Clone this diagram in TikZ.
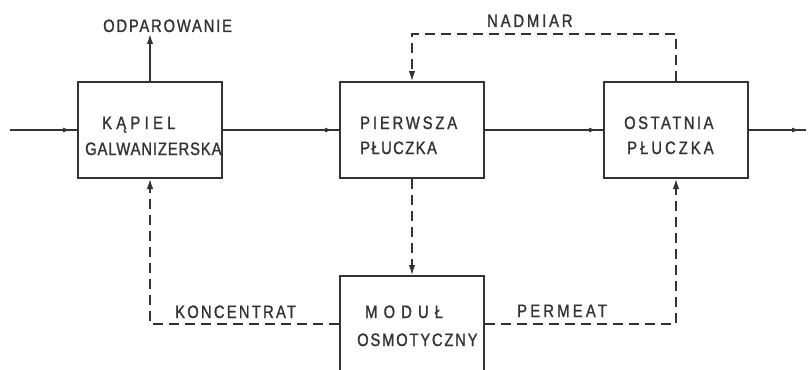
\documentclass[tikz,border=0pt]{standalone}
\usepackage{fontspec}
\setmainfont{Liberation Sans}[FakeStretch=0.82, FakeBold=1.2]
\usetikzlibrary{arrows.meta,decorations.markings}
\newcommand{\lsp}[2]{{\addfontfeature{LetterSpace=#1}#2}}
\definecolor{ink}{HTML}{333333}
\begin{document}
\begin{tikzpicture}[x=1pt,y=-1pt,
  every node/.style={font=\fontsize{18}{20}\selectfont, text=ink},
  box/.style={draw=ink, line width=2pt, minimum width=144pt, minimum height=96pt, inner sep=0pt},
  lbl/.style={anchor=base west, inner sep=0pt},
  flow/.style={draw=ink, line width=1.5pt},
  dsh/.style={draw=ink, line width=1.3pt, dash pattern=on 10pt off 6pt},
  tip/.style={-{Latex[length=10pt,width=6.5pt]}},
  midtip/.style={postaction={decorate}, decoration={markings, mark=at position -6pt with {\arrow{Latex[length=8pt,width=5pt]}}}}
]
\clip (0,0) rectangle (810,369);
\fill[white] (0,0) rectangle (810,369);

\node[box] (bath) at (150,130) {};
\node[box] (first) at (412,130) {};
\node[box] (last) at (676,130) {};
\node[box] (mod) at (412,324) {};

\node[lbl] (t1a) at (102,129) {\lsp{24}{KĄPIEL}};
\node[lbl] (t1b) at (85,155) {\lsp{5}{GALWANIZERSKA}};
\node[lbl] (t2a) at (360,129) {\lsp{16}{PIERWSZA}};
\node[lbl] (t2b) at (360,154) {\lsp{8}{PŁUCZKA}};
\node[lbl] (t3a) at (624,129) {\lsp{14}{OSTATNIA}};
\node[lbl] (t3b) at (627,154) {\lsp{17}{PŁUCZKA}};
\node[lbl] (t4a) at (365,318) {\lsp{34}{MODUŁ}};
\node[lbl] (t4b) at (357,346) {\lsp{10}{OSMOTYCZNY}};

\node[lbl] (odp) at (103,32) {\lsp{10}{ODPAROWANIE}};
\node[lbl] (nad) at (487,27) {\lsp{16}{NADMIAR}};
\node[lbl] (kon) at (175,318) {\lsp{12.5}{KONCENTRAT}};
\node[lbl] (per) at (517,317) {\lsp{18}{PERMEAT}};

\coordinate (in) at (10,130);
\coordinate (out) at (806,130);
\coordinate (evap) at (150,34);
\coordinate (top) at (676,34);

\draw[flow, midtip] (in) -- (bath.west);
\draw[flow, midtip] (bath.east) -- (first.west);
\draw[flow, midtip] (first.east) -- (last.west);
\draw[flow, midtip] (last.east) -- (out);
\draw[flow, tip] (bath.north) -- (evap);

\draw[dsh, tip] (last.north) -- (top) -| (first.north);
\draw[dsh, tip] (first.south) -- (mod.north);
\draw[dsh, tip] (mod.west) -| (bath.south);
\draw[dsh, tip] (mod.east) -| (last.south);
\end{tikzpicture}
\end{document}
